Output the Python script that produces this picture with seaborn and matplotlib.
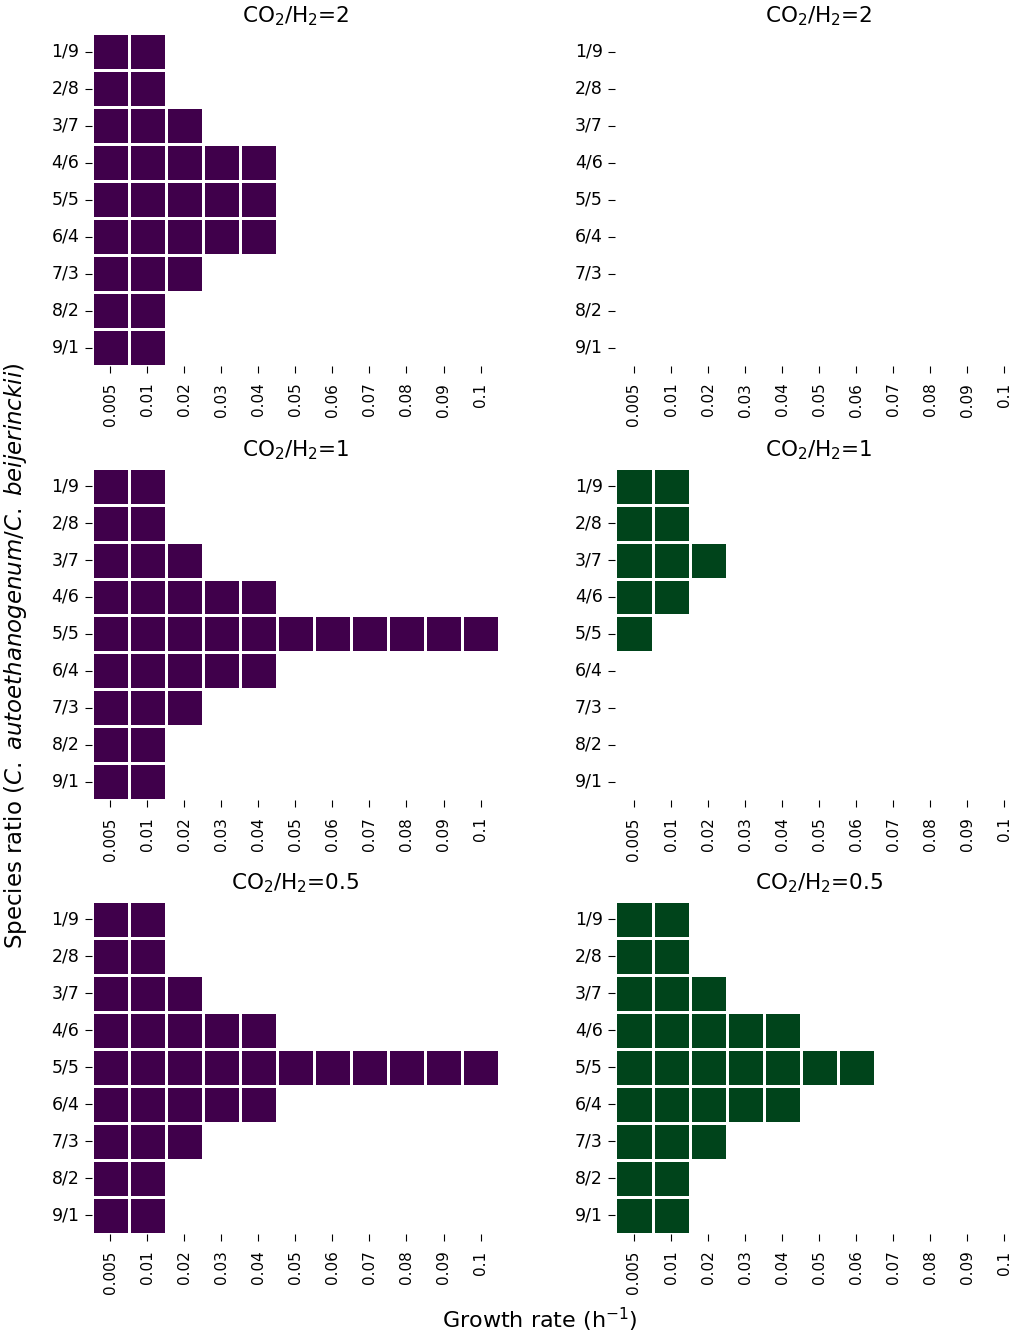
import numpy as np
import pandas as pd
import matplotlib
matplotlib.use("Agg")
import matplotlib.pyplot as plt
import seaborn as sns

growth_rates = ["0.005", "0.01", "0.02", "0.03", "0.04", "0.05",
                "0.06", "0.07", "0.08", "0.09", "0.1"]
ratios = ["1/9", "2/8", "3/7", "4/6", "5/5", "6/4", "7/3", "8/2", "9/1"]
gas_ratios = ["2", "1", "0.5"]

# number of feasible growth rates (from the lowest) for each species ratio
left_counts = {
    "2":   [2, 2, 3, 5, 5, 5, 3, 2, 2],
    "1":   [2, 2, 3, 5, 11, 5, 3, 2, 2],
    "0.5": [2, 2, 3, 5, 11, 5, 3, 2, 2],
}
right_counts = {
    "2":   [0, 0, 0, 0, 0, 0, 0, 0, 0],
    "1":   [2, 2, 3, 2, 1, 0, 0, 0, 0],
    "0.5": [2, 2, 3, 5, 7, 5, 3, 2, 2],
}
left_value = 0.0   # purple end of PRGn
right_value = 1.0  # green end of PRGn


def make_frame(counts, value):
    arr = np.full((len(ratios), len(growth_rates)), np.nan)
    for i, n in enumerate(counts):
        arr[i, :n] = value
    return pd.DataFrame(arr, index=ratios, columns=growth_rates)


fig = plt.figure(figsize=(10.13, 13.35), dpi=100)

lefts = [0.0908, 0.6076]
bottoms = [0.7258, 0.4004, 0.0757]
w, h = 0.4018, 0.2494

for r, g in enumerate(gas_ratios):
    for c in range(2):
        ax = fig.add_axes([lefts[c], bottoms[r], w, h])
        if c == 0:
            df = make_frame(left_counts[g], left_value)
        else:
            df = make_frame(right_counts[g], right_value)
        sns.heatmap(df, ax=ax, cmap="PRGn", vmin=0, vmax=1, cbar=False,
                    linewidths=1, linecolor="white",
                    xticklabels=growth_rates, yticklabels=ratios)
        ax.set_title("CO$_2$/H$_2$=" + g, fontsize=15.5, pad=8)
        ax.tick_params(axis="x", labelsize=11, rotation=90, length=5, pad=7)
        ax.tick_params(axis="y", labelsize=12.5, rotation=0, length=5, pad=4)

fig.text(0.015, 0.509,
         "Species ratio ($\\it{C.}$ $\\it{autoethanogenum}$/$\\it{C.}$ $\\it{beijerinckii}$)",
         rotation=90, ha="center", va="center", fontsize=16.5)
fig.text(0.533, 0.011, "Growth rate (h$^{-1}$)", ha="center", va="center",
         fontsize=16)

fig.savefig("out.png", dpi=100)
